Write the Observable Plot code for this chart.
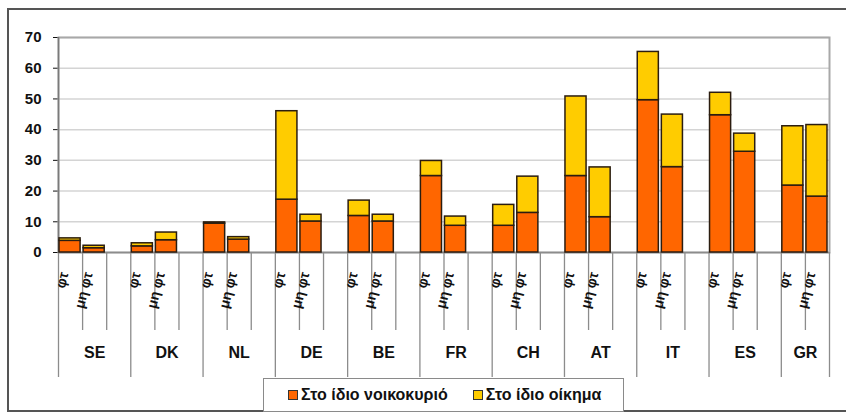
<!DOCTYPE html>
<html><head><meta charset="utf-8">
<script src="https://cdn.jsdelivr.net/npm/d3@7"></script>
<script src="https://cdn.jsdelivr.net/npm/@observablehq/plot@0.6"></script>
<style>
body{margin:0;background:#fff;font-family:Arial,"Liberation Sans",sans-serif;}
#wrap{position:relative;width:846px;height:414px;overflow:hidden;background:#fff}
#border{position:absolute;left:7px;top:8px;width:860px;height:404px;border:2px solid #555;box-sizing:border-box}
#chart{position:absolute;left:0;top:0}
#legend{position:absolute;left:263px;top:378px;width:361px;height:34px;border:1.5px solid #8a8a8a;box-sizing:border-box;display:flex;align-items:center;font-weight:bold;font-size:16px;color:#111;background:#fff}
.sw{display:inline-block;width:8px;height:8px;border:1.5px solid #333;margin-right:3px}
.it{display:flex;align-items:center}
</style></head>
<body>
<div id="wrap">
<div id="border"></div>
<div id="chart"></div>
<div id="legend"></div>
</div>
<script>
const countries = ["SE","DK","NL","DE","BE","FR","CH","AT","IT","ES","GR"];
const groups = ["φτ","μη φτ"];
const seriesNames = ["Στο ίδιο νοικοκυριό","Στο ίδιο οίκημα"];
const seriesColors = ["#FF6600","#FFCC00"];
// values: [φτ, μη φτ] per country
const household = [[3.8,1.4],[2,4],[9.4,4.2],[17.2,10.1],[11.9,10.1],[24.9,8.7],[8.7,12.9],[24.9,11.5],[49.6,27.8],[44.7,32.8],[21.8,18.2]];
const building  = [[0.8,0.8],[1,2.5],[0.4,0.8],[28.8,2.2],[5,2.2],[4.9,3],[6.8,11.8],[25.9,16.2],[15.7,17.1],[7.3,5.9],[19.3,23.3]];
const yTicks = [0,10,20,30,40,50,60,70];

const slotsPerCountry = 3;
const nSlots = 32;
const rows = [];
countries.forEach((c,i)=>{
  groups.forEach((g,j)=>{
    const s = i*slotsPerCountry + j;
    rows.push({country:c, group:g, x1:s, x2:s+1, series:seriesNames[0], value:household[i][j]});
    rows.push({country:c, group:g, x1:s, x2:s+1, series:seriesNames[1], value:building[i][j]});
  });
});
const groupLabels = [];
countries.forEach((c,i)=>groups.forEach((g,j)=>groupLabels.push({x:i*slotsPerCountry+j+0.5, label:g})));
const countryLabels = countries.map((c,i)=>{
  const s=i*slotsPerCountry, e=Math.min(s+slotsPerCountry,nSlots);
  return {x:(s+e)/2, label:c};
});
const bounds = d3.range(0,nSlots+1);
const longB = bounds.filter(b=>b%slotsPerCountry===0 || b===nSlots);
const shortB = bounds.filter(b=>!(b%slotsPerCountry===0 || b===nSlots));

const H = 380, MT = 37, MB = 128;
const frameH = H - MT - MB;

const chart = Plot.plot({
  width: 846, height: H,
  marginLeft: 58, marginRight: 17, marginTop: MT, marginBottom: MB,
  style:{fontFamily:"Arial, 'Liberation Sans', sans-serif", fontSize:"15px", fontWeight:"bold", color:"#111", background:"transparent"},
  x:{domain:[0,nSlots], axis:null},
  y:{domain:[0,70], ticks:yTicks, tickSize:5, tickPadding:12, label:null, line:false},
  color:{domain:seriesNames, range:seriesColors},
  marks:[
    Plot.ruleY(yTicks.slice(1), {stroke:"#d4d4d4", strokeWidth:1.5}),
    Plot.frame({stroke:"#a8a8a8", strokeWidth:2}),
    Plot.ruleY([0], {stroke:"#8c8c8c", strokeWidth:1.5}),
    Plot.ruleX([0], {stroke:"#7a7a7a", strokeWidth:1.5}),
    Plot.ruleX(longB, {stroke:"#8c8c8c", strokeWidth:1.3, insetTop:frameH, insetBottom:-125}),
    Plot.ruleX(shortB, {stroke:"#8c8c8c", strokeWidth:1.3, insetTop:frameH, insetBottom:-78}),
    Plot.rectY(rows, Plot.stackY({x1:"x1", x2:"x2", y:"value", fill:"series", stroke:"#2b1d10", strokeWidth:1.5, insetLeft:1, insetRight:2})),
    Plot.text(groupLabels, {x:"x", text:"label", frameAnchor:"bottom", dy:21, dx:-2, rotate:-76, textAnchor:"end", fontSize:14, fontWeight:"bold", fill:"#111"}),
    Plot.text(countryLabels, {x:"x", text:"label", frameAnchor:"bottom", dy:105, fontSize:16, fontWeight:"bold", fill:"#111"})
  ]
});
document.getElementById("chart").appendChild(chart);

const lg = document.getElementById("legend");
seriesNames.forEach((n,i)=>{
  const it=document.createElement("span"); it.className="it";
  it.style.marginLeft = i===0 ? "24px" : "25px";
  const sw=document.createElement("span"); sw.className="sw"; sw.style.background=seriesColors[i];
  it.appendChild(sw); it.appendChild(document.createTextNode(n)); lg.appendChild(it);
});
</script>
</body></html>
